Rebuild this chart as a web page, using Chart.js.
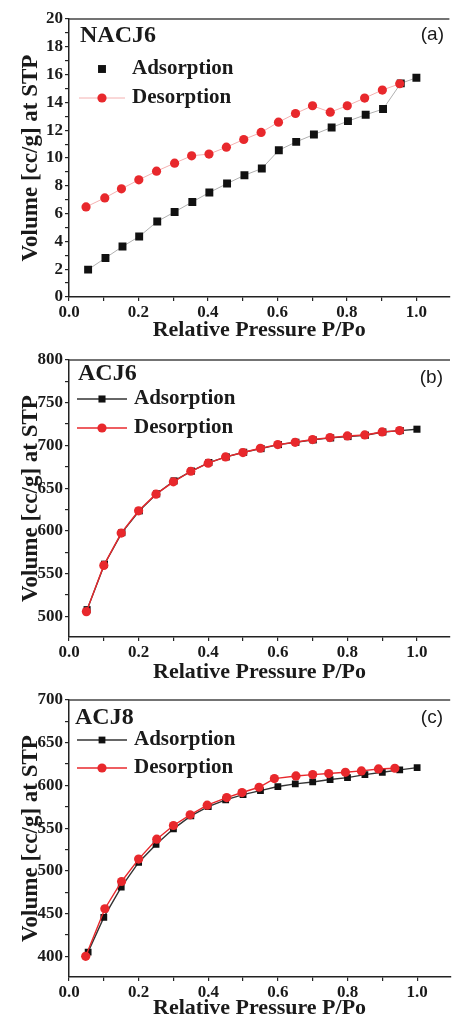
<!DOCTYPE html>
<html>
<head>
<meta charset="utf-8">
<script src="https://cdn.jsdelivr.net/npm/chart.js@4.4.0/dist/chart.umd.min.js"></script>
<style>
  html, body { margin: 0; padding: 0; background: #fff; }
  body { width: 455px; height: 1019px; position: relative; overflow: hidden; }
  canvas { position: absolute; left: 0; }
</style>
</head>
<body>
<canvas id="chartA" width="455" height="341" style="top:0px"></canvas>
<canvas id="chartB" width="455" height="342" style="top:341px"></canvas>
<canvas id="chartC" width="455" height="336" style="top:683px"></canvas>
<script>
// ---- data ----
const seriesNames = ['Adsorption', 'Desorption'];
const panelNames = ['NACJ6', 'ACJ6', 'ACJ8'];
const panelTags = ['(a)', '(b)', '(c)'];
const xTitle = 'Relative Pressure P/Po';
const yTitle = 'Volume [cc/g] at STP';

const xTicks = [0, 0.2, 0.4, 0.6, 0.8, 1.0];
const yTicksA = [0, 2, 4, 6, 8, 10, 12, 14, 16, 18, 20];
const yTicksB = [500, 550, 600, 650, 700, 750, 800];
const yTicksC = [400, 450, 500, 550, 600, 650, 700];

// (a) NACJ6
const nacj6AdsX = [0.055, 0.105, 0.154, 0.202, 0.254, 0.304, 0.355, 0.404, 0.455, 0.505, 0.555, 0.604, 0.654, 0.705, 0.756, 0.803, 0.854, 0.904, 0.955, 1.0];
const nacj6Ads = [1.97, 2.81, 3.63, 4.35, 5.43, 6.12, 6.84, 7.52, 8.16, 8.76, 9.24, 10.56, 11.16, 11.69, 12.2, 12.65, 13.11, 13.52, 15.37, 15.77];
const nacj6DesX = [0.049, 0.103, 0.151, 0.201, 0.252, 0.304, 0.353, 0.403, 0.453, 0.503, 0.553, 0.603, 0.652, 0.701, 0.752, 0.801, 0.851, 0.902, 0.952];
const nacj6Des = [6.48, 7.13, 7.78, 8.43, 9.05, 9.63, 10.16, 10.28, 10.78, 11.33, 11.84, 12.58, 13.2, 13.76, 13.3, 13.76, 14.31, 14.89, 15.34];

// (b) ACJ6
const acj6AdsX = [0.052, 0.102, 0.152, 0.202, 0.252, 0.302, 0.352, 0.402, 0.452, 0.502, 0.552, 0.602, 0.652, 0.702, 0.752, 0.802, 0.852, 0.902, 0.952, 1.0];
const acj6Ads = [507.8, 561, 598, 623.5, 643.4, 658.5, 670, 680, 686.6, 692, 696.3, 701, 703.7, 706.5, 708.8, 710.4, 712, 715.8, 717.4, 719];
const acj6DesX = [0.05, 0.10, 0.15, 0.20, 0.25, 0.30, 0.35, 0.40, 0.45, 0.50, 0.55, 0.60, 0.65, 0.70, 0.75, 0.80, 0.85, 0.90, 0.95];
const acj6Des = [505.5, 559.6, 597.4, 623.5, 643, 657.4, 669.8, 679.2, 686.6, 691.7, 696.7, 701, 703.7, 706.9, 709.2, 711.1, 712.3, 715.8, 717.4];

// (c) ACJ8
const acj8AdsX = [0.055, 0.10, 0.15, 0.20, 0.25, 0.30, 0.35, 0.40, 0.45, 0.50, 0.55, 0.60, 0.65, 0.70, 0.75, 0.80, 0.85, 0.90, 0.95, 1.0];
const acj8Ads = [405, 445.6, 481, 509.9, 530.9, 549.2, 564.4, 575.3, 583.1, 589.3, 594, 598.7, 601.8, 604.1, 606.9, 609.2, 612.7, 615.4, 618.2, 620.9];
const acj8DesX = [0.048, 0.103, 0.151, 0.20, 0.252, 0.30, 0.348, 0.397, 0.453, 0.497, 0.546, 0.59, 0.652, 0.70, 0.746, 0.794, 0.84, 0.889, 0.936];
const acj8Des = [400, 455.7, 487.6, 513.8, 537.1, 553.1, 565.6, 576.9, 585.8, 591.7, 597.9, 608, 611.1, 612.7, 613.9, 615.4, 617, 619.3, 620.1];

// ---- drawing ----
const SERIF = '"Liberation Serif", "Times New Roman", serif';
const SANS = '"Liberation Sans", Arial, sans-serif';
const INK = '#1a1a1a';
const RED = '#e8282c';

function pairs(xs, ys) {
  return ys.map((y, i) => ({ x: xs[i], y: y }));
}

// majors plus one minor tick between each pair
function withMinor(majors) {
  const out = [];
  majors.forEach((m, i) => {
    out.push(m);
    if (i < majors.length - 1) out.push((m + majors[i + 1]) / 2);
  });
  return out;
}

function isMajor(v, majors) {
  return majors.some(m => Math.abs(m - v) < 1e-9);
}

const panelDeco = {
  id: 'panelDeco',
  afterDraw(chart, args, o) {
    const { ctx, chartArea: a } = chart;
    ctx.save();
    // top frame line
    ctx.strokeStyle = '#444';
    ctx.lineWidth = 1.5;
    ctx.beginPath();
    ctx.moveTo(a.left, a.top);
    ctx.lineTo(a.right, a.top);
    ctx.stroke();

    ctx.fillStyle = INK;
    ctx.textBaseline = 'middle';
    ctx.textAlign = 'left';
    ctx.font = 'bold 24px ' + SERIF;
    ctx.fillText(o.name, o.nameX, a.top + o.nameDy);
    ctx.textAlign = 'right';
    ctx.font = '19px ' + SANS;
    ctx.fillText(o.tag, o.tagX, a.top + o.tagDy);

    // legend
    chart.data.datasets.forEach((ds, i) => {
      const y = a.top + o.legendDy[i];
      if (o.legendLine[i]) {
        ctx.strokeStyle = ds.borderColor;
        ctx.lineWidth = ds.borderWidth;
        ctx.beginPath();
        ctx.moveTo(o.lineX0, y);
        ctx.lineTo(o.lineX1, y);
        ctx.stroke();
      }
      ctx.fillStyle = ds.pointBackgroundColor;
      const r = ds.pointRadius;
      ctx.beginPath();
      if (ds.pointStyle === 'rect') {
        const h = r * Math.SQRT1_2;
        ctx.rect(o.markerX - h, y - h, 2 * h, 2 * h);
      } else {
        ctx.arc(o.markerX, y, r, 0, Math.PI * 2);
      }
      ctx.fill();
      ctx.fillStyle = INK;
      ctx.textAlign = 'left';
      ctx.font = 'bold 21px ' + SERIF;
      ctx.fillText(ds.label, o.textX, y);
    });
    ctx.restore();
  }
};

function makePanel(id, p) {
  const xAll = withMinor(xTicks);
  const yAll = withMinor(p.yTicks);
  return new Chart(document.getElementById(id), {
    type: 'scatter',
    data: {
      datasets: [
        {
          label: seriesNames[0],
          data: pairs(p.adsX, p.ads),
          showLine: true,
          order: 1,
          borderColor: p.adsLine,
          borderWidth: p.lineWidth,
          pointStyle: 'rect',
          pointRadius: p.rectR,
          pointBackgroundColor: '#111',
          pointBorderWidth: 0
        },
        {
          label: seriesNames[1],
          data: pairs(p.desX, p.des),
          showLine: true,
          order: 0,
          borderColor: p.desLine,
          borderWidth: p.lineWidth,
          pointStyle: 'circle',
          pointRadius: 4.6,
          pointBackgroundColor: RED,
          pointBorderWidth: 0
        }
      ]
    },
    options: {
      responsive: false,
      animation: false,
      devicePixelRatio: 1,
      layout: { padding: { top: p.padTop, left: 0, right: 0, bottom: 0 } },
      plugins: {
        legend: { display: false },
        tooltip: { enabled: false },
        panelDeco: p.deco
      },
      scales: {
        x: {
          type: 'linear',
          position: 'bottom',
          min: 0,
          max: 1.095,
          afterBuildTicks: s => { s.ticks = xAll.map(v => ({ value: v })); },
          afterFit: s => { s.height = p.xHeight; },
          ticks: {
            autoSkip: false,
            maxRotation: 0,
            padding: 1,
            color: INK,
            font: { family: SERIF, size: 17, weight: 'bold' },
            callback: v => isMajor(v, xTicks) ? v.toFixed(1) : ''
          },
          grid: { drawOnChartArea: false, tickLength: 4, color: '#222', lineWidth: 1.2 },
          border: { color: '#222', width: 1.5 },
          title: {
            display: true,
            text: xTitle,
            color: INK,
            padding: 0,
            font: { family: SERIF, size: 22, weight: 'bold', lineHeight: 1 }
          }
        },
        y: {
          type: 'linear',
          min: p.yMin,
          max: p.yMax,
          afterBuildTicks: s => { s.ticks = yAll.map(v => ({ value: v })); },
          afterFit: s => { s.width = 69; },
          ticks: {
            autoSkip: false,
            padding: 2,
            color: INK,
            font: { family: SERIF, size: 17, weight: 'bold' },
            callback: v => isMajor(v, p.yTicks) ? String(v) : ''
          },
          grid: { drawOnChartArea: false, tickLength: 4, color: '#222', lineWidth: 1.2 },
          border: { color: '#222', width: 1.5 },
          title: {
            display: true,
            text: yTitle,
            color: INK,
            padding: { top: 20, bottom: 0 },
            font: { family: SERIF, size: 23, weight: 'bold', lineHeight: 1 }
          }
        }
      }
    },
    plugins: [panelDeco]
  });
}

makePanel('chartA', {
  adsX: nacj6AdsX, ads: nacj6Ads, desX: nacj6DesX, des: nacj6Des,
  yTicks: yTicksA, yMin: 0, yMax: 20,
  padTop: 19, xHeight: 44,
  adsLine: '#b0b0b0', desLine: '#f4b0b0', lineWidth: 1, rectR: 5.6,
  deco: {
    name: panelNames[0], nameX: 80, nameDy: 17,
    tag: panelTags[0], tagX: 444, tagDy: 16,
    legendDy: [50, 79], legendLine: [false, true],
    lineX0: 79, lineX1: 125, markerX: 102, textX: 132
  }
});

makePanel('chartB', {
  adsX: acj6AdsX, ads: acj6Ads, desX: acj6DesX, des: acj6Des,
  yTicks: yTicksB, yMin: 475.8, yMax: 800,
  padTop: 19, xHeight: 46,
  adsLine: '#333', desLine: RED, lineWidth: 1.4, rectR: 5.0,
  deco: {
    name: panelNames[1], nameX: 78, nameDy: 14,
    tag: panelTags[1], tagX: 443, tagDy: 18,
    legendDy: [39, 68], legendLine: [true, true],
    lineX0: 77, lineX1: 127, markerX: 102, textX: 134
  }
});

makePanel('chartC', {
  adsX: acj8AdsX, ads: acj8Ads, desX: acj8DesX, des: acj8Des,
  yTicks: yTicksC, yMin: 375.8, yMax: 700,
  padTop: 17, xHeight: 42,
  adsLine: '#333', desLine: RED, lineWidth: 1.4, rectR: 4.8,
  deco: {
    name: panelNames[2], nameX: 75, nameDy: 18,
    tag: panelTags[2], tagX: 443, tagDy: 18,
    legendDy: [40, 68], legendLine: [true, true],
    lineX0: 77, lineX1: 127, markerX: 102, textX: 134
  }
});
</script>
</body>
</html>
